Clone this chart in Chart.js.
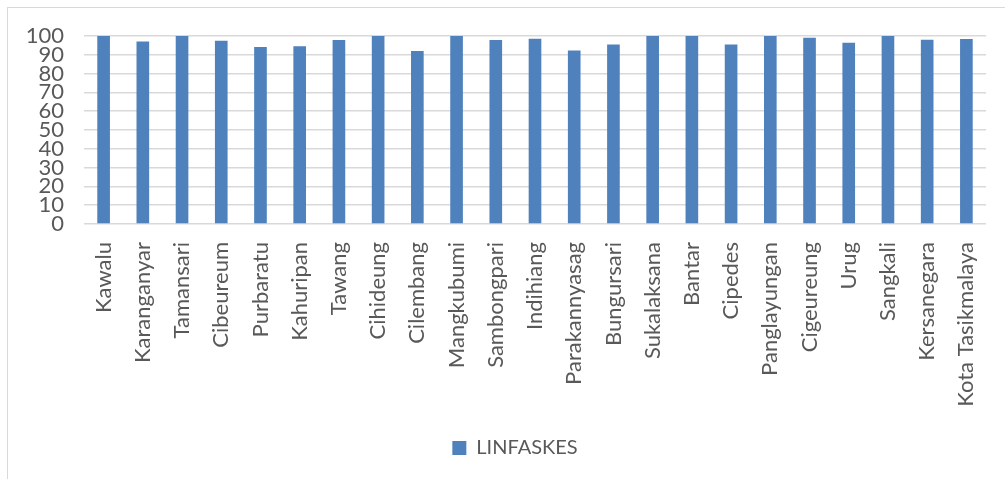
<!DOCTYPE html>
<html><head><meta charset="utf-8">
<script src="https://cdn.jsdelivr.net/npm/chart.js@4.4.0/dist/chart.umd.min.js"></script>
<style>
html,body{margin:0;padding:0;background:#fff;overflow:hidden;width:1005px;height:479px;}
#frame{position:absolute;left:7px;top:7px;width:1030px;height:480px;border-left:1px solid #d9d9d9;border-top:1px solid #d9d9d9;box-sizing:border-box;}
#wrap{position:absolute;left:0;top:0;width:1014px;height:479px;}
</style></head><body>
<div id="frame"><div id="wrap"><canvas id="c"></canvas></div></div>
<script>
const categories = ["Kawalu","Karanganyar","Tamansari","Cibeureum","Purbaratu","Kahuripan","Tawang","Cihideung","Cilembang","Mangkubumi","Sambongpari","Indihiang","Parakannyasag","Bungursari","Sukalaksana","Bantar","Cipedes","Panglayungan","Cigeureung","Urug","Sangkali","Kersanegara","Kota Tasikmalaya"];
const linfaskes = [100,97.1,100,97.5,94.1,94.5,97.9,100,92.0,100,97.9,98.6,92.3,95.5,100,100,95.5,100,99.1,96.4,100,98.0,98.4];
const yTicks = [0,10,20,30,40,50,60,70,80,90,100];
const seriesName = "LINFASKES";

const FONT = "Lato, sans-serif";
const TXT = "#595959";
const noPad = (s) => { s.paddingTop = 0; s.paddingBottom = 0; };
new Chart(document.getElementById('c'), {
  type: 'bar',
  data: { labels: categories, datasets: [{ label: seriesName, data: linfaskes, backgroundColor: '#4F81BD', borderColor: '#4F81BD', borderWidth: 0, barPercentage: 0.5, categoryPercentage: 0.645, yAxisID: 'y' }] },
  options: {
    responsive: true, maintainAspectRatio: false, animation: false,
    layout: { padding: { top: 28, left: 0, right: 0, bottom: 19 } },
    plugins: {
      tooltip: { enabled: false },
      legend: { position: 'bottom', labels: { color: TXT, font: { family: FONT, size: 20 }, boxWidth: 14, boxHeight: 14, padding: 10 } }
    },
    scales: {
      x: {
        grid: { display: false, drawTicks: false },
        border: { display: false },
        ticks: { color: TXT, font: { family: FONT, size: 22 }, minRotation: 90, maxRotation: 90, autoSkip: false, padding: 18 },
        afterFit: (s) => { s.height = 204; noPad(s); }
      },
      y: {
        min: 0, max: 100,
        afterBuildTicks: (s) => { s.ticks = yTicks.map(v => ({ value: v })); },
        grid: { color: '#d9d9d9', lineWidth: 1.5, drawTicks: false },
        border: { display: false },
        ticks: { color: TXT, font: { family: FONT, size: 22 }, autoSkip: false, padding: 20 },
        afterFit: (s) => { s.width = 76; noPad(s); }
      },
      yRight: {
        position: 'right', min: 0, max: 100,
        grid: { display: false, drawTicks: false },
        border: { display: false },
        ticks: { display: false },
        afterFit: (s) => { s.width = 36; noPad(s); }
      }
    }
  }
});
</script>
</body></html>
